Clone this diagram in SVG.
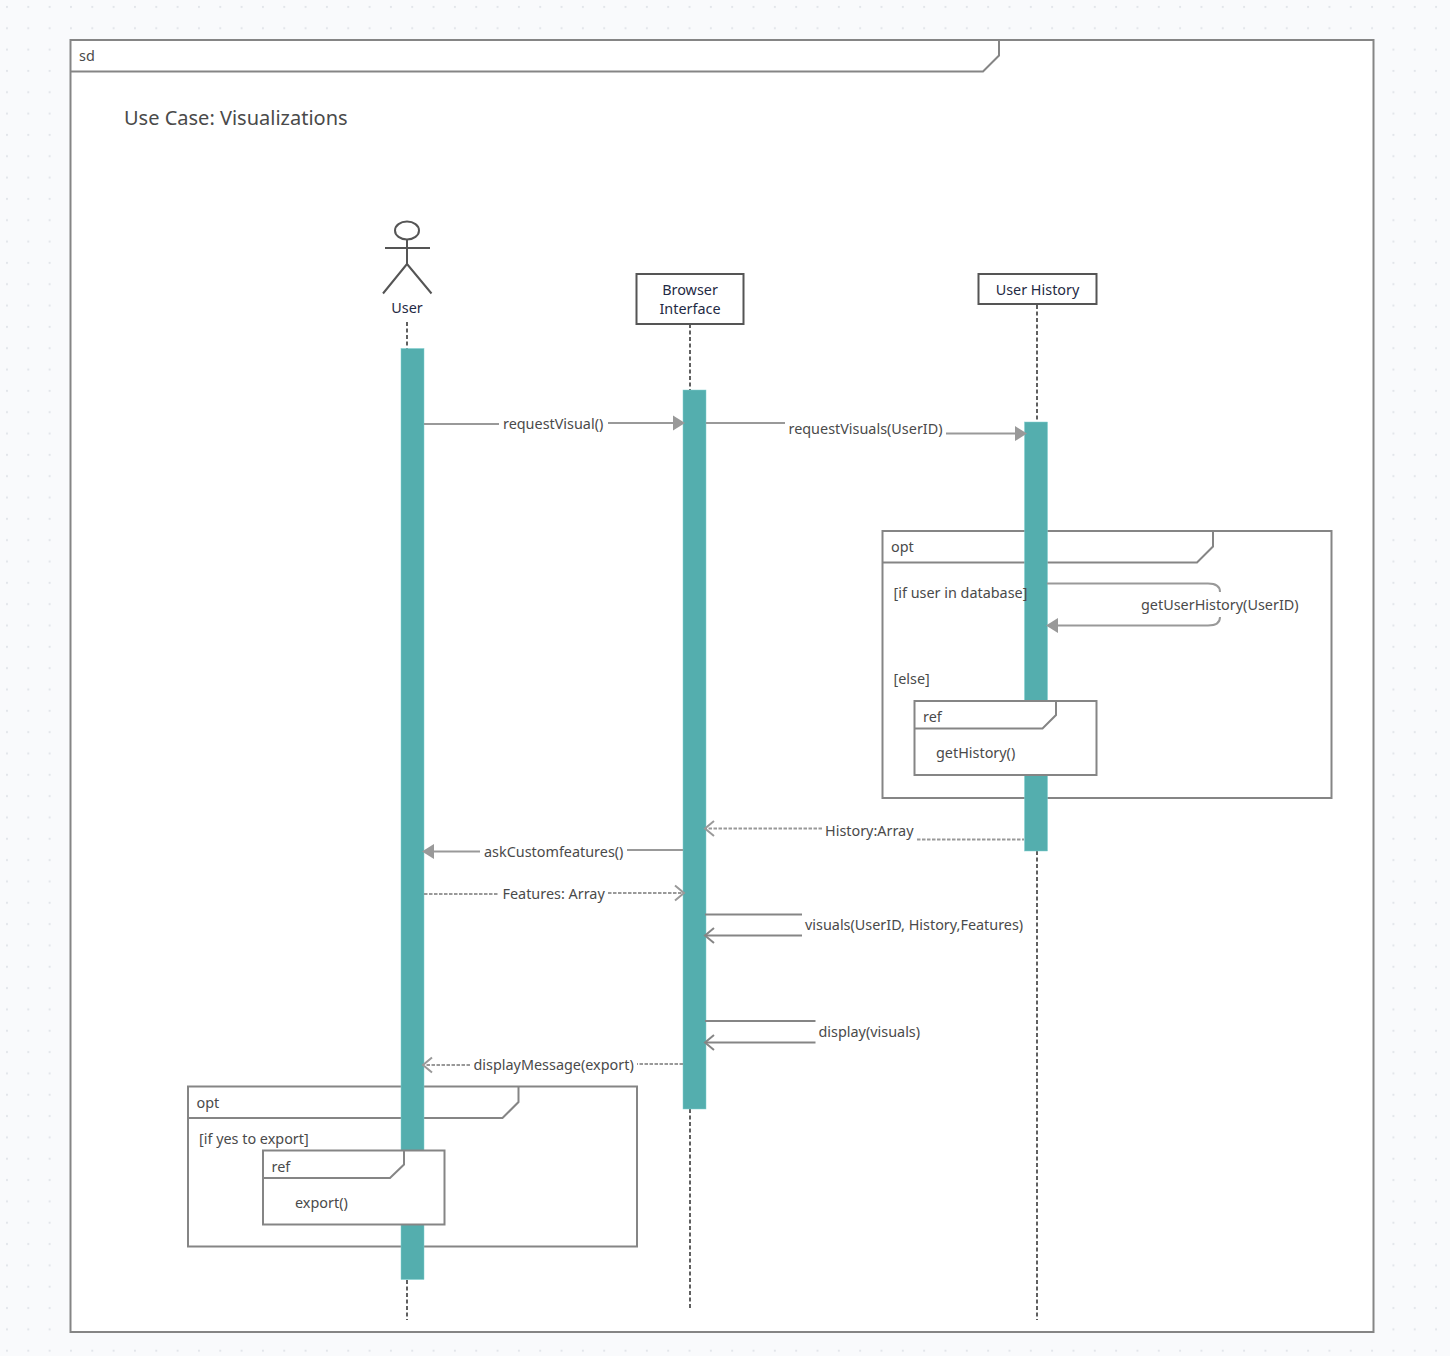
<svg xmlns="http://www.w3.org/2000/svg" width="1450" height="1356" viewBox="0 0 1450 1356">
<style>
text{font-family:"Noto Sans","Open Sans","Liberation Sans",sans-serif;font-size:14.4px;fill:#4a4a4a}
.dk{fill:#1f2a44}
.frame{fill:#fff;stroke:#858585;stroke-width:2}
.tab{fill:none;stroke:#858585;stroke-width:2}
.bar{fill:#54aeae;stroke:#7fcfcf;stroke-width:.5}
.life{fill:none;stroke:#4f4f4f;stroke-width:1.8;stroke-dasharray:4 2.5}
.head{fill:#fff;stroke:#555;stroke-width:2}
.msg{fill:none;stroke:#999;stroke-width:2}
.ret{fill:none;stroke:#999;stroke-width:1.8;stroke-dasharray:3.5 1.5}
.self{fill:none;stroke:#858585;stroke-width:2}
.open{fill:none;stroke:#999;stroke-width:2}
.opend{fill:none;stroke:#858585;stroke-width:2}
.solid{fill:#999;stroke:none}
.actor{fill:none;stroke:#555;stroke-width:2}
</style>
<defs>
<pattern id="dots" width="21.33" height="21.33" patternUnits="userSpaceOnUse" x="-3.7" y="-3.7">
<circle cx="10.67" cy="10.67" r="1.1" fill="#e2e5ea"/>
</pattern>
</defs>
<rect width="1450" height="1356" fill="#f9fafc"/>
<rect width="1450" height="1356" fill="url(#dots)"/>

<g id="frame-sd">
<rect class="frame" x="70.500" y="40" width="1303" height="1292"/>
<path class="tab" d="M70.500 71.500H983L999 55.500V40"/>
<text x="79" y="61">sd</text>
<text x="124" y="125" style="font-size:20px">Use Case: Visualizations</text>
</g>

<g id="frame-opt-1">
<rect class="frame" x="882.500" y="531" width="449" height="267"/>
<path class="tab" d="M882.500 562.500H1197L1213 546.500V531"/>
<text x="891" y="552">opt</text>
<text x="893.500" y="683.500">[else]</text>
</g>

<g id="frame-opt-2">
<rect class="frame" x="188" y="1086.500" width="449" height="160"/>
<path class="tab" d="M188 1118H502.500L518.500 1102V1086.500"/>
<text x="196.500" y="1108">opt</text>
<text x="199" y="1144">[if yes to export]</text>
</g>

<g id="lifelines">
<path class="life" d="M407 322V349M407 1280V1320"/>
<path class="life" d="M690 324V390M690 1109V1308"/>
<path class="life" d="M1037 305V422M1037 851V1320"/>
</g>

<g id="actor-user">
<ellipse class="actor" cx="407" cy="230.500" rx="12" ry="9"/>
<path class="actor" d="M407 239.500V264M385 248H430M407 264L383 293.500M407 264L431.500 293.500"/>
<text class="dk" x="407" y="313" text-anchor="middle">User</text>
</g>

<g id="node-browser">
<rect class="head" x="636.500" y="274" width="107" height="50"/>
<text class="dk" x="690" y="295" text-anchor="middle">Browser</text>
<text class="dk" x="690" y="314" text-anchor="middle">Interface</text>
</g>

<g id="node-history">
<rect class="head" x="978.500" y="274" width="118" height="30"/>
<text class="dk" x="1037.500" y="295" text-anchor="middle">User History</text>
</g>

<g id="activations">
<rect id="bar-user" class="bar" x="401" y="348.500" width="23" height="931"/>
<rect id="bar-browser" class="bar" x="683" y="390" width="23" height="719"/>
<rect id="bar-history" class="bar" x="1024.500" y="422" width="23" height="429"/>
</g>

<g id="guard-label">
<text x="893.500" y="598">[if user in database]</text>
</g>

<g id="frame-ref-1">
<rect class="frame" x="914.500" y="701" width="182" height="74"/>
<path class="tab" d="M914.500 728.500H1042.500L1056 715V701"/>
<text x="923" y="722">ref</text>
<text x="936" y="758">getHistory()</text>
</g>

<g id="frame-ref-2">
<rect class="frame" x="263" y="1150.500" width="181.500" height="74"/>
<path class="tab" d="M263 1178H390L404 1164.500V1150.500"/>
<text x="271.500" y="1172">ref</text>
<text x="295" y="1208">export()</text>
</g>

<g id="connectors">
<path class="msg" d="M424 424H499M608 423H675"/>
<path class="solid" d="M673 415.500L685 423L673 430.500Z"/>
<path class="msg" d="M706 423H785M946 433.500H1017"/>
<path class="solid" d="M1015 426L1027 433.500L1015 441Z"/>
<path class="msg" d="M1047 583.500H1208Q1220 583.500 1220 592M1220 617Q1220 625.500 1208 625.500H1056" />
<path class="solid" d="M1058 618L1046 625.500L1058 633Z"/>
<path class="ret" d="M822 828.500H706"/>
<path class="open" d="M714 821L705 828.500L714 836"/>
<path class="ret" d="M917 839.500H1024"/>
<path class="msg" d="M683 850H627M480 851.500H432"/>
<path class="solid" d="M434 844L422 851.500L434 859Z"/>
<path class="ret" d="M424 894H498M608 893H683"/>
<path class="open" d="M675 885.500L684 893L675 900.500"/>
<path class="self" d="M705 914.500H802M802 935.500H706"/>
<path class="opend" d="M714 928L705 935.500L714 943"/>
<path class="self" d="M705 1021H815.500M815.500 1042.500H706"/>
<path class="opend" d="M714 1035L705 1042.500L714 1050"/>
<path class="ret" d="M470 1065H425M683 1064H637"/>
<path class="open" d="M432 1057.500L423 1065L432 1072.500"/>
</g>

<g id="connector-labels">
<text x="503" y="429">requestVisual()</text>
<text x="788.500" y="433.500">requestVisuals(UserID)</text>
<text x="1141" y="610">getUserHistory(UserID)</text>
<text x="825" y="836">History:Array</text>
<text x="484" y="856.500">askCustomfeatures()</text>
<text x="502.500" y="899">Features: Array</text>
<text x="805" y="930">visuals(UserID, History,Features)</text>
<text x="818.500" y="1037">display(visuals)</text>
<text x="473.500" y="1070">displayMessage(export)</text>
</g>
</svg>
